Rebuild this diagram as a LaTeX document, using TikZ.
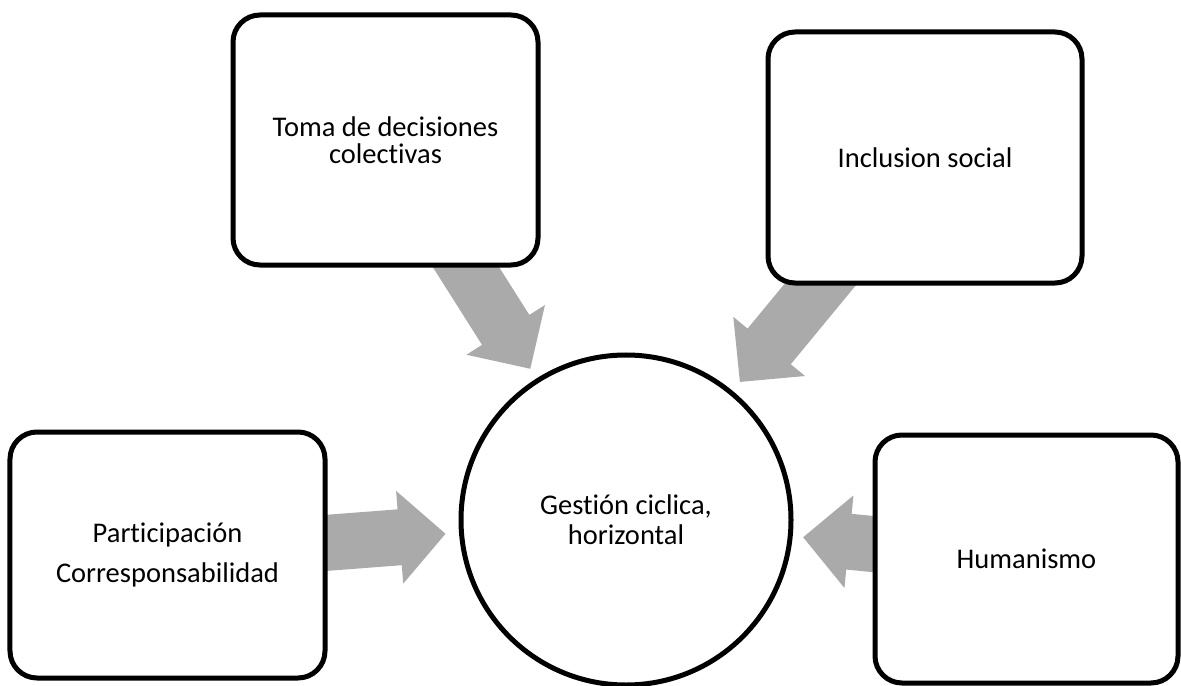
\documentclass[tikz,border=0pt]{standalone}
\usepackage{fontspec}
\setmainfont{Carlito}[Ligatures=NoCommon]
\usetikzlibrary{calc,backgrounds}
\definecolor{arrowgray}{RGB}{170,170,170}

% Broad block arrow from #1 to the tip #2
\newcommand\blockarrow[2]{%
  \coordinate (hb) at ($(#2)!46bp!(#1)$);
  \fill[arrowgray]
    ($(#1)!28bp!90:(#2)$) -- ($(hb)!28bp!90:(#2)$) -- ($(hb)!46.5bp!90:(#2)$)
    -- (#2)
    -- ($(hb)!46.5bp!-90:(#2)$) -- ($(hb)!28bp!-90:(#2)$) -- ($(#1)!28bp!-90:(#2)$)
    -- cycle;
}

\tikzset{
  card/.style={draw=black, line width=5bp, rounded corners=27bp, fill=white,
    inner sep=0pt, align=center, font=\fontsize{28.6}{27}\selectfont},
  hub/.style={circle, draw=black, line width=5bp, fill=white, minimum size=330bp,
    inner sep=0pt, align=center, font=\fontsize{28.6}{30}\selectfont},
}

\begin{document}
\begin{tikzpicture}[x=1bp, y=-1bp]
  \useasboundingbox (0,0) rectangle (1181,686);

  % central circle
  \node[hub] (hub) at (626,520) {Gestión ciclica,\\horizontal};

  % surrounding boxes
  \node[card, minimum width=305bp, minimum height=250bp] (toma) at (385.5,140)
    {Toma de decisiones\\colectivas};
  \node[card, minimum width=314bp, minimum height=251bp] (inclusion) at (925,157.5)
    {Inclusion social};
  \node[card, minimum width=315bp, minimum height=246bp] (particip) at (167.5,555)
    {Participación\\[14bp]Corresponsabilidad};
  \node[card, minimum width=303bp, minimum height=248bp] (human) at (1026.5,559)
    {Humanismo};

  % arrow tips just outside the circle
  \coordinate (t1) at ($(hub.center)!179bp!(toma.center)$);
  \coordinate (t2) at ($(hub.center)!179bp!(inclusion.center)$);
  \coordinate (t3) at ($(hub.center)!181bp!(particip.center)$);
  \coordinate (t4) at ($(hub.center)!178bp!(human.center)$);

  \begin{scope}[on background layer]
    \blockarrow{toma.center}{t1}
    \blockarrow{inclusion.center}{t2}
    \blockarrow{particip.center}{t3}
    \blockarrow{human.center}{t4}
  \end{scope}
\end{tikzpicture}
\end{document}
